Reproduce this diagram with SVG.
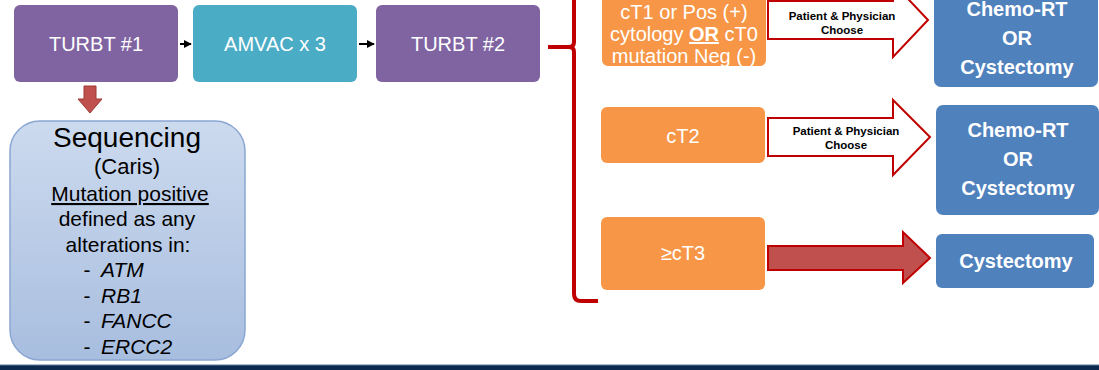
<svg xmlns="http://www.w3.org/2000/svg" width="1099" height="370" viewBox="0 0 1099 370">
  <defs>
    <style>
      .lbl { font-family: "Liberation Sans", Arial, sans-serif; fill: #ffffff; text-anchor: middle; }
      .bold { font-weight: bold; }
      .seq { font-family: "Liberation Sans", Arial, sans-serif; fill: #000000; text-anchor: middle; }
      .gene { font-family: "Liberation Sans", Arial, sans-serif; fill: #000000; font-style: italic; font-size: 21px; }
      .dash { font-family: "Liberation Sans", Arial, sans-serif; fill: #000000; font-size: 21px; text-anchor: middle; }
      .choose { font-family: "Liberation Sans", Arial, sans-serif; fill: #000000; font-weight: bold; font-size: 11.5px; text-anchor: middle; }
      .purple { fill: #8064A2; }
      .teal { fill: #4BACC6; }
      .orange { fill: #F79646; }
      .blue { fill: #4F81BD; }
      .hollow { fill: #ffffff; stroke: #C00000; stroke-width: 2; stroke-linejoin: miter; }
      .solid { fill: #C0504D; stroke: #C00000; stroke-width: 2; }
    </style>
    <linearGradient id="seqFill" x1="0" y1="0" x2="0" y2="1">
      <stop offset="0" stop-color="#CCDAEE"/>
      <stop offset="1" stop-color="#A8BEDF"/>
    </linearGradient>
    <marker id="tri" viewBox="0 0 10 10" refX="9" refY="5" markerWidth="4" markerHeight="4" orient="auto">
      <path d="M0 0 L10 5 L0 10 Z" fill="#000000"/>
    </marker>
  </defs>

  <rect width="1099" height="370" fill="#ffffff"/>

  <!-- connectors -->
  <g id="connectors">
    <line x1="180" y1="44" x2="191" y2="44" stroke="#000000" stroke-width="2" marker-end="url(#tri)"/>
    <line x1="359" y1="44" x2="374" y2="44" stroke="#000000" stroke-width="2" marker-end="url(#tri)"/>
    <!-- down arrow to sequencing -->
    <path d="M84 86 H96 V99 H102 L90 113 L78 99 H84 Z" fill="#C0504D" stroke="#9C3A37" stroke-width="1"/>
    <!-- brace -->
    <path d="M574 -5 V42 Q574 47 569 47 H548 M569 47 Q574 47 574 52 V294 Q574 301 581 301 H598" fill="none" stroke="#C00000" stroke-width="4"/>
    <!-- branch arrows -->
    <path class="hollow" d="M768 1 H893 V-17 L928 20 L893 57 V39 H768 Z"/>
    <path class="hollow" d="M768 118 H893 V100 L930 137 L893 175 V156 H768 Z"/>
    <path class="solid" d="M768 246 H903 V232 L930 258 L903 283 V270 H768 Z"/>
    <text class="choose" x="842" y="20">Patient &amp; Physician</text>
    <text class="choose" x="842" y="34">Choose</text>
    <text class="choose" x="846" y="135">Patient &amp; Physician</text>
    <text class="choose" x="846" y="149">Choose</text>
  </g>

  <g id="turbt1">
    <rect class="purple" x="14" y="5" width="164" height="77" rx="6"/>
    <text class="lbl" x="96" y="51" font-size="20">TURBT #1</text>
  </g>
  <g id="amvac">
    <rect class="teal" x="193" y="5" width="164" height="77" rx="6"/>
    <text class="lbl" x="275" y="51" font-size="20">AMVAC x 3</text>
  </g>
  <g id="turbt2">
    <rect class="purple" x="376" y="5" width="164" height="77" rx="6"/>
    <text class="lbl" x="458" y="51" font-size="20">TURBT #2</text>
  </g>

  <g id="sequencing">
    <rect x="10" y="121" width="235" height="239" rx="30" fill="url(#seqFill)" stroke="#8AA6D2" stroke-width="1.5"/>
    <text class="seq" x="127" y="147" font-size="28">Sequencing</text>
    <text class="seq" x="127" y="174" font-size="22">(Caris)</text>
    <text class="seq" x="130" y="201" font-size="21" text-decoration="underline">Mutation positive</text>
    <text class="seq" x="127" y="226" font-size="21">defined as any</text>
    <text class="seq" x="128" y="252" font-size="21">alterations in:</text>
    <text class="dash" x="87" y="277">-</text>
    <text class="gene" x="101" y="277">ATM</text>
    <text class="dash" x="87" y="303">-</text>
    <text class="gene" x="101" y="303">RB1</text>
    <text class="dash" x="87" y="328">-</text>
    <text class="gene" x="101" y="328">FANCC</text>
    <text class="dash" x="87" y="354">-</text>
    <text class="gene" x="101" y="354">ERCC2</text>
  </g>

  <g id="ct1">
    <rect class="orange" x="602" y="-12" width="164" height="78" rx="6"/>
    <text class="lbl" x="684" y="19" font-size="20">cT1 or Pos (+)</text>
    <text class="lbl" x="684" y="41" font-size="20">cytology <tspan font-weight="bold" text-decoration="underline">OR</tspan> cT0</text>
    <text class="lbl" x="684" y="63" font-size="20">mutation Neg (-)</text>
  </g>
  <g id="ct2">
    <rect class="orange" x="601" y="107" width="164" height="56" rx="6"/>
    <text class="lbl" x="683" y="143" font-size="20">cT2</text>
  </g>
  <g id="ct3">
    <rect class="orange" x="601" y="217" width="164" height="73" rx="6"/>
    <text class="lbl" x="683" y="260" font-size="20">≥cT3</text>
  </g>

  <g id="choice1">
    <rect class="blue" x="934" y="-23" width="164" height="110" rx="7"/>
    <text class="lbl bold" x="1017" y="16" font-size="20">Chemo-RT</text>
    <text class="lbl bold" x="1017" y="45" font-size="20">OR</text>
    <text class="lbl bold" x="1017" y="74" font-size="20">Cystectomy</text>
  </g>
  <g id="choice2">
    <rect class="blue" x="936" y="105" width="163" height="110" rx="7"/>
    <text class="lbl bold" x="1018" y="137" font-size="20">Chemo-RT</text>
    <text class="lbl bold" x="1018" y="166" font-size="20">OR</text>
    <text class="lbl bold" x="1018" y="195" font-size="20">Cystectomy</text>
  </g>
  <g id="cystectomy">
    <rect class="blue" x="936" y="234" width="158" height="54" rx="6"/>
    <text class="lbl bold" x="1016" y="268" font-size="20">Cystectomy</text>
  </g>

  <!-- footer band -->
  <rect x="0" y="365" width="1099" height="5" fill="#0C2A50"/>
  <line x1="0" y1="365" x2="1099" y2="365" stroke="#5C7799" stroke-width="1"/>
</svg>
